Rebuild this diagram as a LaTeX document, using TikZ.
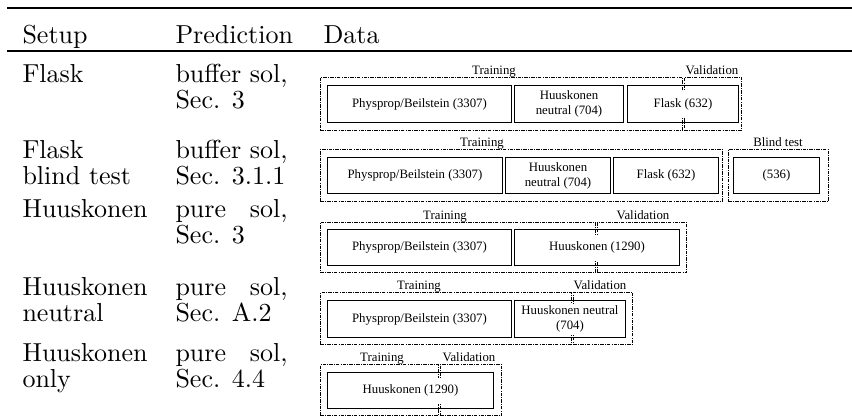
\documentclass[tikz,border=0pt]{standalone}
\usepackage{fontspec}
\newfontfamily\tms{Liberation Serif}
\newlength\solw
\begin{document}
\begin{tikzpicture}[x=1pt,y=-1pt,
  tabtext/.style={anchor=base west, inner sep=0pt, scale=2.6, font=\fontsize{10}{10.2}\selectfont},
  grp/.style={draw, line width=0.8pt, dash pattern=on 3.5pt off 1.2pt on 0.8pt off 1.2pt,
    anchor=north west, inner sep=0pt},
  databox/.style={draw, line width=1pt, anchor=north west, inner sep=0pt},
  datatext/.style={fill=white, inner xsep=2pt, inner ysep=2pt, minimum height=26pt,
    align=center, font=\tms\fontsize{12.8}{15}\selectfont},
  grplabel/.style={anchor=base, inner sep=0pt, font=\tms\fontsize{12.8}{15}\selectfont}]
\useasboundingbox (0,0) rectangle (852,418);

% table rules
\coordinate (toprule-l) at (7,7.5);
\coordinate (toprule-r) at (852,7.5);
\coordinate (midrule-l) at (7,51);
\coordinate (midrule-r) at (852,51);
\draw[line width=2pt] (toprule-l) -- (toprule-r);
\draw[line width=1.2pt] (midrule-l) -- (midrule-r);

% header
\node[tabtext] (h-setup) at (22,43) {Setup};
\node[tabtext] (h-pred) at (175,43) {Prediction};
\node[tabtext] (h-data) at (323,43) {Data};

% first two columns
\node[tabtext] (s1a) at (22,82) {Flask};
\node[tabtext] (p1a) at (175,82) {buffer sol,};
\node[tabtext] (p1b) at (175,108.5) {Sec. 3};

\node[tabtext] (s2a) at (22,158) {Flask};
\node[tabtext] (s2b) at (22,184.5) {blind test};
\node[tabtext] (p2a) at (175,158) {buffer sol,};
\node[tabtext] (p2b) at (175,184.5) {Sec. 3.1.1};

\node[tabtext] (s3a) at (22,217) {Huuskonen};
\node[tabtext] (p3a) at (175,217) {\settowidth{\solw}{buffer sol,}\hbox to \solw{pure\hfill sol,}};
\node[tabtext] (p3b) at (175,243.5) {Sec. 3};

\node[tabtext] (s4a) at (22,295) {Huuskonen};
\node[tabtext] (s4b) at (22,321.5) {neutral};
\node[tabtext] (p4a) at (175,295) {\settowidth{\solw}{buffer sol,}\hbox to \solw{pure\hfill sol,}};
\node[tabtext] (p4b) at (175,321.5) {Sec. A.2};

\node[tabtext] (s5a) at (22,361) {Huuskonen};
\node[tabtext] (s5b) at (22,387.5) {only};
\node[tabtext] (p5a) at (175,361) {\settowidth{\solw}{buffer sol,}\hbox to \solw{pure\hfill sol,}};
\node[tabtext] (p5b) at (175,387.5) {Sec. 4.4};

% ---- row 1: Flask ----
\node[grp, minimum width=362pt, minimum height=53pt] (r1-train) at (320,77) {};
\node[grp, minimum width=57pt, minimum height=53pt] (r1-val) at (684,77) {};
\node[grplabel] (r1-train-lbl) at (494,74) {Training};
\node[grplabel] (r1-val-lbl) at (712,74) {Validation};
\node[databox, minimum width=184pt, minimum height=37pt] (r1-b1) at (327,85) {};
\node[databox, minimum width=109pt, minimum height=37pt] (r1-b2) at (514,85) {};
\node[databox, minimum width=111pt, minimum height=37pt] (r1-b3) at (627,85) {};
\node[datatext] (r1-t1) at (r1-b1.center) {Physprop/Beilstein (3307)};
\node[datatext] (r1-t2) at (r1-b2.center) {Huuskonen\\neutral (704)};
\node[datatext] (r1-t3) at (r1-b3.center) {Flask (632)};

% ---- row 2: Flask blind test ----
\node[grp, minimum width=402pt, minimum height=52pt] (r2-train) at (320,149) {};
\node[grp, minimum width=100pt, minimum height=52pt] (r2-blind) at (728,149) {};
\node[grplabel] (r2-train-lbl) at (482,146) {Training};
\node[grplabel] (r2-blind-lbl) at (778,146) {Blind test};
\node[databox, minimum width=175pt, minimum height=36pt] (r2-b1) at (327,157) {};
\node[databox, minimum width=105pt, minimum height=36pt] (r2-b2) at (505,157) {};
\node[databox, minimum width=105pt, minimum height=36pt] (r2-b3) at (613,157) {};
\node[databox, minimum width=86pt, minimum height=36pt] (r2-b4) at (733,157) {};
\node[datatext] (r2-t1) at (r2-b1.center) {Physprop/Beilstein (3307)};
\node[datatext] (r2-t2) at (r2-b2.center) {Huuskonen\\neutral (704)};
\node[datatext] (r2-t3) at (r2-b3.center) {Flask (632)};
\node[datatext] (r2-t4) at (r2-b4.center) {(536)};

% ---- row 3: Huuskonen ----
\node[grp, minimum width=275pt, minimum height=50pt] (r3-train) at (320,222) {};
\node[grp, minimum width=89pt, minimum height=50pt] (r3-val) at (597,222) {};
\node[grplabel] (r3-train-lbl) at (445,219) {Training};
\node[grplabel] (r3-val-lbl) at (643,219) {Validation};
\node[databox, minimum width=184pt, minimum height=36pt] (r3-b1) at (327,229) {};
\node[databox, minimum width=165pt, minimum height=36pt] (r3-b2) at (514,229) {};
\node[datatext] (r3-t1) at (r3-b1.center) {Physprop/Beilstein (3307)};
\node[datatext] (r3-t2) at (r3-b2.center) {Huuskonen (1290)};

% ---- row 4: Huuskonen neutral ----
\node[grp, minimum width=251pt, minimum height=52pt] (r4-train) at (320,292) {};
\node[grp, minimum width=59pt, minimum height=52pt] (r4-val) at (573,292) {};
\node[grplabel] (r4-train-lbl) at (419,289) {Training};
\node[grplabel] (r4-val-lbl) at (600,289) {Validation};
\node[databox, minimum width=184pt, minimum height=37pt] (r4-b1) at (327,300) {};
\node[databox, minimum width=111pt, minimum height=37pt] (r4-b2) at (514,300) {};
\node[datatext] (r4-t1) at (r4-b1.center) {Physprop/Beilstein (3307)};
\node[datatext] (r4-t2) at (r4-b2.center) {Huuskonen neutral\\(704)};

% ---- row 5: Huuskonen only ----
\node[grp, minimum width=118pt, minimum height=51pt] (r5-train) at (320,364) {};
\node[grp, minimum width=61pt, minimum height=51pt] (r5-val) at (440,364) {};
\node[grplabel] (r5-train-lbl) at (382,361) {Training};
\node[grplabel] (r5-val-lbl) at (469,361) {Validation};
\node[databox, minimum width=166pt, minimum height=36pt] (r5-b1) at (327,372) {};
\node[datatext] (r5-t1) at (r5-b1.center) {Huuskonen (1290)};
\end{tikzpicture}
\end{document}
